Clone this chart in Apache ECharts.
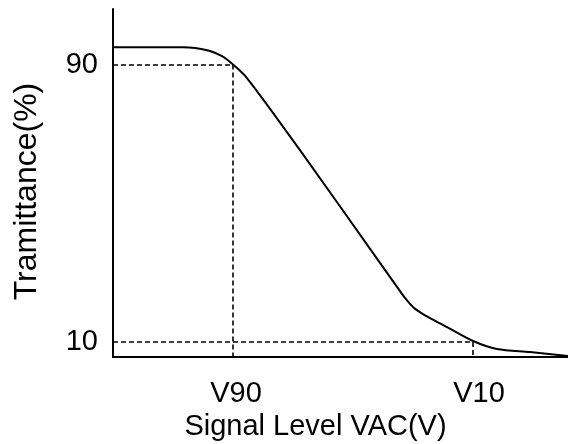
<!DOCTYPE html>
<html>
<head>
<meta charset="utf-8">
<script src="https://cdn.jsdelivr.net/npm/echarts@6/dist/echarts.min.js"></script>
<style>
  html, body { margin: 0; padding: 0; background: #fff; }
  #chart { width: 568px; height: 444px; }
</style>
</head>
<body>
<div id="chart"></div>
<script>
// curve (x in arbitrary signal units, y in %)
let curveX = [0, 70, 82, 97, 109, 120, 134, 187, 267, 284, 292, 300, 308, 317, 334, 360, 384, 417, 455];
let curveY = [95.0, 95.0, 94.75, 93.9, 92.4, 90, 86.1, 65.3, 32.8, 25.9, 22.7, 20.1, 18.4, 16.9, 14.3, 10.3, 8.0, 7.1, 6.0];

let yTicks = [10, 90];
let xMarks = [120, 360];
let xLabelValues = [123, 366];
let xLabels = ['V90', 'V10'];

let xMin = 0, xMax = 455;
let yMin = 5.68, yMax = 106;

let font = 'Liberation Sans, Arial, sans-serif';

function initChart() {

  let chart = echarts.init(document.getElementById('chart'));

  let dashLines = [];
  xMarks.forEach((x, i) => {
    let y = yTicks[yTicks.length - 1 - i];
    dashLines.push([{ coord: [xMin, y] }, { coord: [x, y] }]);
    dashLines.push([{ coord: [x, y] }, { coord: [x, yMin] }]);
  });

  let option = {
    animation: false,
    grid: { left: 113, right: 0, top: 9, bottom: 87, outerBoundsMode: 'none' },
    xAxis: {
      type: 'value',
      min: xMin,
      max: xMax,
      name: 'Signal Level VAC(V)',
      nameLocation: 'middle',
      nameGap: 55,
      nameTextStyle: { fontFamily: font, fontSize: 29, color: '#000', padding: [0, 50, 0, 0] },
      axisLine: { show: true, lineStyle: { color: '#000', width: 2 } },
      axisTick: { show: false },
      splitLine: { show: false },
      axisLabel: {
        customValues: xLabelValues,
        formatter: v => xLabels[xLabelValues.indexOf(v)] || '',
        fontFamily: font,
        fontSize: 29,
        color: '#000',
        margin: 22
      }
    },
    yAxis: {
      type: 'value',
      min: yMin,
      max: yMax,
      name: 'Tramittance(%)',
      nameLocation: 'middle',
      nameGap: 70,
      nameTextStyle: { fontFamily: font, fontSize: 32, color: '#000', padding: [0, 17, 0, 0] },
      axisLine: { show: true, lineStyle: { color: '#000', width: 2 } },
      axisTick: { show: false },
      splitLine: { show: false },
      axisLabel: {
        customValues: yTicks,
        fontFamily: font,
        fontSize: 29,
        color: '#000',
        margin: 15
      }
    },
    series: [{
      type: 'line',
      data: curveX.map((x, i) => [x, curveY[i]]),
      smooth: 0.3,
      showSymbol: false,
      lineStyle: { color: '#000', width: 2 },
      markLine: {
        silent: true,
        symbol: 'none',
        label: { show: false },
        lineStyle: { color: '#000', width: 1.6, type: [5, 3] },
        data: dashLines
      }
    }]
  };

  chart.setOption(option);

}

document.addEventListener('DOMContentLoaded', initChart);
</script>
</body>
</html>
